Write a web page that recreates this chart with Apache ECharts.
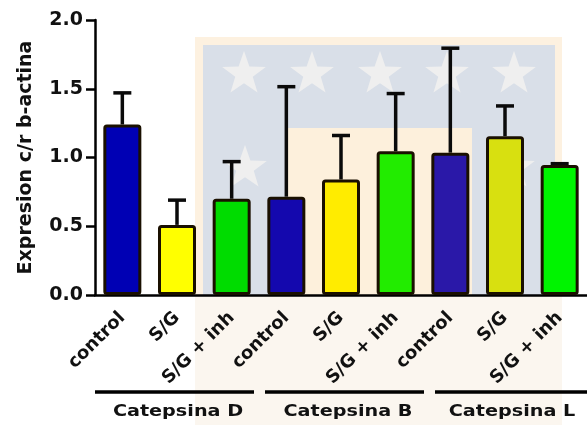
<!DOCTYPE html>
<html>
<head>
<meta charset="utf-8">
<script src="https://cdn.jsdelivr.net/npm/echarts@6/dist/echarts.min.js"></script>
<style>
  html, body { margin: 0; padding: 0; background: #fff; }
  #chart { width: 587px; height: 425px; }
</style>
</head>
<body>
<div id="chart"></div>
<script>
const categories = ['control', 'S/G', 'S/G + inh', 'control', 'S/G', 'S/G + inh', 'control', 'S/G', 'S/G + inh'];
const means = [1.24, 0.51, 0.70, 0.715, 0.84, 1.045, 1.035, 1.155, 0.945];
const errors = [0.23, 0.18, 0.27, 0.80, 0.32, 0.42, 0.76, 0.22, 0.01];
const groups = ['Catepsina D', 'Catepsina B', 'Catepsina L'];
const yTicks = [0, 0.5, 1.0, 1.5, 2.0];

// fill colours as they show through the logo watermark
const barColors = ['#0000b4', '#ffff00', '#00dc00', '#1408ae', '#ffec00', '#22ec00', '#2a18a8', '#d8e010', '#00f400'];
const FONT = '"DejaVu Sans", sans-serif';

const chart = echarts.init(document.getElementById('chart'), null, { renderer: 'canvas' });

function star(cx, cy, r) {
  const pts = [];
  for (let i = 0; i < 10; i++) {
    const rr = i % 2 === 0 ? r : r * 0.4;
    const a = -Math.PI / 2 + i * Math.PI / 5;
    pts.push([cx + rr * Math.cos(a), cy + rr * Math.sin(a)]);
  }
  return { type: 'polygon', z: -5, silent: true, shape: { points: pts }, style: { fill: '#efefef' } };
}

const watermark = [
  { type: 'rect', z: -10, silent: true, shape: { x: 195, y: 295, width: 367, height: 130 }, style: { fill: '#fbf6ef' } },
  { type: 'rect', z: -10, silent: true, shape: { x: 195, y: 37, width: 367, height: 258 }, style: { fill: '#fdf1e0' } },
  { type: 'rect', z: -9, silent: true, shape: { x: 203, y: 45, width: 352, height: 250 }, style: { fill: '#d9dfe8' } },
  { type: 'rect', z: -8, silent: true, shape: { x: 288, y: 128, width: 184, height: 167 }, style: { fill: '#fdf0dc' } },
  star(244, 74, 23), star(312, 74, 23), star(380, 74, 23), star(447, 74, 23), star(514, 74, 23),
  star(245, 168, 23), star(513, 168, 23)
];

const option = {
  backgroundColor: '#fff',
  animation: false,
  grid: { left: 95, top: 20, width: 495, height: 275 },
  xAxis: {
    type: 'category',
    data: categories,
    axisLine: { lineStyle: { color: '#000', width: 2.5 } },
    axisTick: { alignWithLabel: true, length: 8, lineStyle: { color: '#000', width: 2.5 } },
    axisLabel: {
      interval: 0, rotate: 45, margin: 20,
      color: '#111', fontFamily: FONT, fontWeight: 'bold', fontSize: 18
    }
  },
  yAxis: {
    type: 'value',
    min: yTicks[0], max: yTicks[yTicks.length - 1], interval: 0.5,
    name: 'Expresion c/r b-actina',
    nameLocation: 'middle',
    nameGap: 59,
    nameTextStyle: { color: '#111', fontFamily: FONT, fontWeight: 'bold', fontSize: 19 },
    axisLine: { show: true, lineStyle: { color: '#000', width: 2.5 } },
    axisTick: { show: true, length: 9, lineStyle: { color: '#000', width: 2.5 } },
    axisLabel: {
      margin: 12, color: '#111', fontFamily: FONT, fontWeight: 'bold', fontSize: 19,
      formatter: v => v.toFixed(1)
    },
    splitLine: { show: false }
  },
  graphic: watermark,
  series: [
    {
      type: 'bar',
      barWidth: 38,
      data: means.map((v, i) => ({
        value: v,
        itemStyle: { color: barColors[i], borderColor: '#1a1000', borderWidth: 3, borderRadius: 2 }
      })),
      z: 3
    },
    {
      type: 'custom',
      z: 2,
      data: means.map((v, i) => [i, v, v + errors[i]]),
      renderItem: (params, api) => {
        const base = api.coord([api.value(0), api.value(1)]);
        const top = api.coord([api.value(0), api.value(2)]);
        const cap = 9;
        const s = { stroke: '#0a0a0a', lineWidth: 3.5 };
        return {
          type: 'group',
          children: [
            { type: 'line', shape: { x1: base[0], y1: base[1], x2: top[0], y2: top[1] }, style: s },
            { type: 'line', shape: { x1: top[0] - cap, y1: top[1], x2: top[0] + cap, y2: top[1] }, style: s }
          ]
        };
      }
    }
  ]
};

chart.setOption(option);

// group brackets under the rotated labels, placed from the category axis
const extra = [];
groups.forEach((g, k) => {
  const mid = chart.convertToPixel({ xAxisIndex: 0 }, k * 3 + 1);
  const cx = mid + 4 + (k - 1) * 6;
  extra.push({
    type: 'line', silent: true,
    shape: { x1: cx - 80, y1: 392, x2: cx + 79, y2: 392 },
    style: { stroke: '#000', lineWidth: 3.5 }
  });
  extra.push({
    type: 'text', silent: true,
    x: cx + (k === 2 ? -3 : 3), y: 412, scaleX: 1.2, originX: 0,
    style: {
      text: g, fill: '#111', font: 'bold 16px ' + FONT,
      align: 'center', verticalAlign: 'middle'
    }
  });
});
chart.setOption({ graphic: watermark.concat(extra) });
</script>
</body>
</html>
